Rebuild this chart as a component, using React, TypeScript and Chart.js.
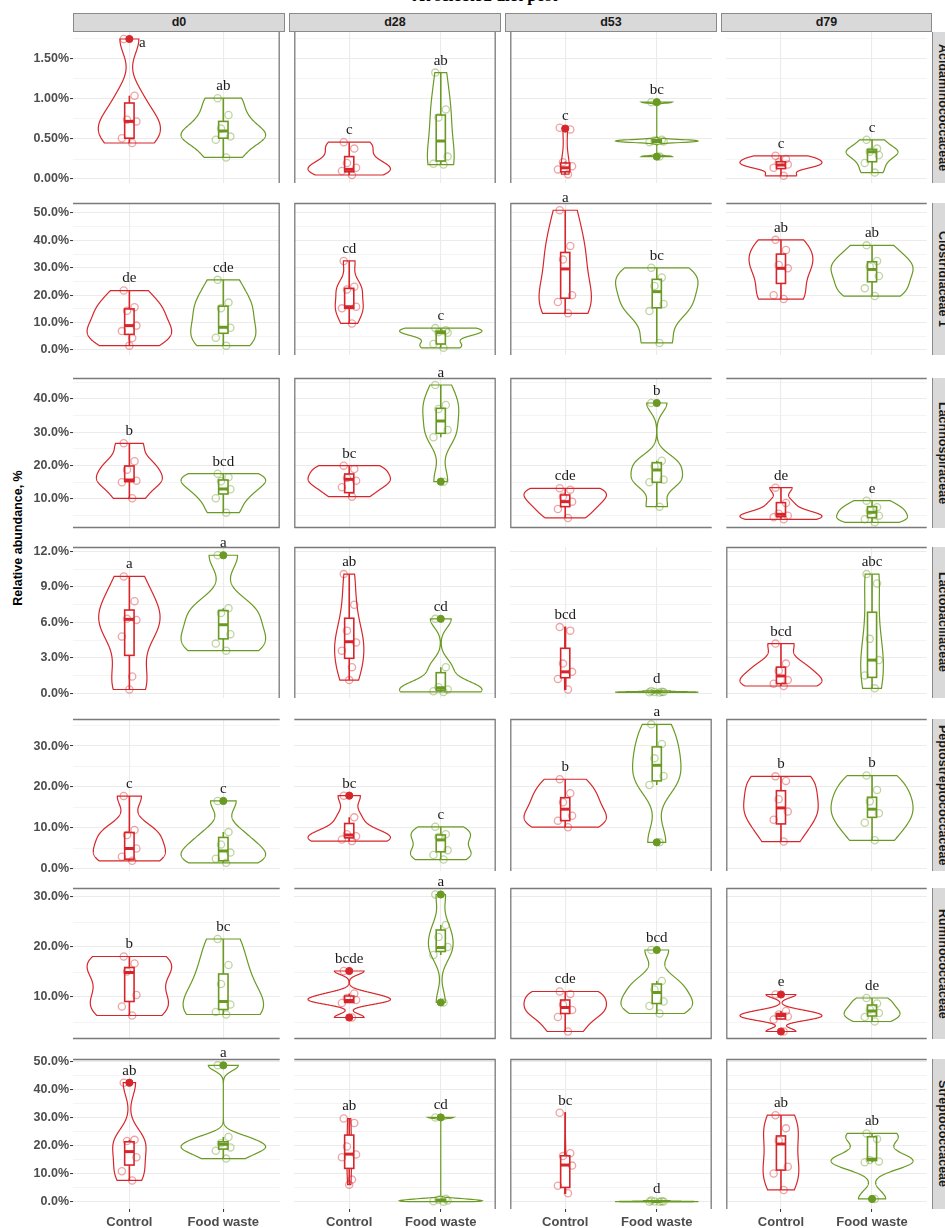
import React, { useEffect, useRef } from 'react';
import { Chart, registerables } from 'chart.js';
Chart.register(...registerables);

// ---------------- DATA ----------------
const FAMILIES = ['Acidaminococcaceae', 'Clostridiaceae 1', 'Lachnospiraceae', 'Lactobacillaceae', 'Peptostreptococcaceae', 'Ruminococcaceae', 'Streptococcaceae'];
const DAYS = ['d0', 'd28', 'd53', 'd79'];
const GROUPS = ['Control', 'Food waste'];

// y axis ranges (relative abundance, %) per family row
const Y_MIN = [-0.05, -1.82, 1.29, -0.42, -0.49, 1.6, -2.5];
const Y_MAX = [1.8375, 53.65, 46.3, 12.4, 36.6, 31.8, 51.07];
const Y_STEP = [0.5, 10, 10, 3, 10, 10, 10];
const Y_DEC = [2, 1, 1, 1, 1, 1, 1];

// points [day][group]
const ACID_POINTS = [
  [[1.75, 1.04, 0.74, 0.72, 0.51, 0.45], [1.01, 0.8, 0.63, 0.53, 0.49, 0.27]],
  [[0.46, 0.38, 0.2, 0.14, 0.1, 0.05], [1.33, 0.87, 0.77, 0.28, 0.19, 0.18]],
  [[0.64, 0.62, 0.21, 0.16, 0.12, 0.06], [0.96, 0.49, 0.48, 0.47, 0.46, 0.28]],
  [[0.29, 0.25, 0.21, 0.18, 0.14, 0.04], [0.49, 0.38, 0.34, 0.3, 0.2, 0.08]],
];
const ACID_BOX = [
  [[0.45, 0.51, 0.72, 0.95, 1.04], [0.27, 0.51, 0.6, 0.72, 1.01]],
  [[0.05, 0.09, 0.12, 0.28, 0.46], [0.18, 0.225, 0.475, 0.8, 1.33]],
  [[0.06, 0.09, 0.14, 0.2, 0.22], [0.455, 0.46, 0.475, 0.49, 0.5]],
  [[0.04, 0.13, 0.175, 0.216, 0.29], [0.08, 0.216, 0.34, 0.37, 0.49]],
];
const ACID_OUT = [[[1.75], []], [[], []], [[0.63], [0.96, 0.28]], [[], []]];
const ACID_LETTERS = [['a', 'ab'], ['c', 'ab'], ['c', 'bc'], ['c', 'c']];

const CLOS_POINTS = [
  [[21.7, 15.6, 14.3, 8.9, 6.9, 4.4, 1.6], [25.6, 17.3, 15.2, 8.1, 4.5, 1.6]],
  [[32.5, 23.1, 22.1, 15.8, 15.2, 9.7], [8.0, 7.2, 6.5, 6.3, 2.2, 0.8]],
  [[51.0, 38.0, 33.0, 20.0, 17.5, 13.4], [30.0, 26.5, 23.4, 16.8, 14.2, 2.6]],
  [[40.2, 36.5, 31.0, 29.8, 20.0, 18.6], [38.2, 32.5, 30.5, 27.0, 22.5, 19.7]],
];
const CLOS_BOX = [
  [[1.6, 5.7, 8.9, 15.0, 21.7], [1.6, 6.1, 8.3, 16.0, 25.6]],
  [[9.7, 15.2, 15.8, 22.5, 32.5], [0.8, 2.2, 6.3, 6.9, 8.0]],
  [[13.4, 18.9, 29.6, 35.6, 51.0], [2.6, 15.4, 21.3, 25.8, 30.0]],
  [[18.6, 24.3, 29.8, 35.0, 40.2], [19.7, 24.9, 29.4, 32.2, 38.2]],
];
const CLOS_OUT = [[[], []], [[], []], [[], []], [[], []]];
const CLOS_LETTERS = [['de', 'cde'], ['cd', 'c'], ['a', 'bc'], ['ab', 'ab']];

const LACH_POINTS = [
  [[26.7, 21.3, 18.8, 15.5, 15.0, 10.2], [17.6, 16.5, 15.3, 12.9, 10.2, 5.9]],
  [[20.0, 19.0, 16.3, 15.5, 13.5, 10.7], [44.2, 38.2, 37.0, 30.7, 28.5, 15.2]],
  [[13.2, 12.8, 10.7, 9.2, 7.0, 4.3], [38.8, 21.5, 19.8, 15.8, 15.0, 7.7]],
  [[13.4, 8.8, 5.6, 5.0, 4.5, 3.9], [9.5, 7.5, 6.5, 5.0, 3.9, 3.0]],
];
const LACH_BOX = [
  [[10.2, 15.2, 15.7, 19.9, 26.7], [5.9, 11.5, 13.0, 15.7, 17.6]],
  [[10.7, 11.9, 15.9, 17.5, 20.0], [28.5, 29.7, 33.4, 37.2, 44.2]],
  [[4.3, 7.7, 9.2, 11.2, 13.2], [7.7, 15.0, 18.7, 20.9, 21.5]],
  [[3.9, 4.7, 5.4, 8.9, 13.4], [3.0, 4.4, 6.0, 7.7, 9.5]],
];
const LACH_OUT = [[[], []], [[], [15.2]], [[], [38.8]], [[], []]];
const LACH_LETTERS = [['b', 'bcd'], ['bc', 'a'], ['cde', 'b'], ['de', 'e']];

const LACTO_POINTS = [
  [[9.9, 7.8, 6.3, 6.2, 4.8, 1.4, 0.3], [11.7, 7.2, 6.8, 5.0, 4.2, 3.6]],
  [[10.1, 7.5, 5.3, 4.3, 3.6, 2.2, 1.1], [6.3, 2.2, 0.5, 0.3, 0.15, 0.1]],
  [[5.6, 5.3, 2.5, 1.8, 1.2, 0.3], [0.18, 0.12, 0.1, 0.08, 0.06, 0.05]],
  [[4.2, 2.5, 1.9, 1.1, 0.8, 0.6], [10.1, 9.3, 4.6, 2.8, 1.5, 0.4]],
];
const LACTO_BOX = [
  [[0.3, 3.2, 6.26, 7.05, 9.9], [3.6, 4.6, 5.8, 7.0, 7.2]],
  [[1.1, 2.95, 4.36, 6.35, 10.1], [0.1, 0.25, 0.45, 1.73, 2.2]],
  [[0.3, 1.3, 1.8, 3.8, 5.6], [0.05, 0.07, 0.09, 0.12, 0.18]],
  [[0.6, 0.8, 1.45, 2.2, 4.2], [0.4, 1.33, 2.8, 6.86, 10.1]],
];
const LACTO_OUT = [[[], [11.7]], [[], [6.3]], [[], []], [[], []]];
const LACTO_LETTERS = [['a', 'a'], ['ab', 'cd'], ['bcd', 'd'], ['bcd', 'abc']];

const PEPTO_POINTS = [
  [[17.8, 9.5, 8.3, 5.0, 3.0, 2.0], [16.6, 9.0, 6.0, 4.0, 2.5, 1.5]],
  [[17.9, 12.6, 8.5, 8.0, 7.2, 6.8], [10.3, 8.5, 7.8, 4.6, 3.4, 2.3]],
  [[21.9, 18.5, 16.3, 13.0, 11.8, 10.2], [35.3, 30.5, 27.0, 22.7, 20.5, 6.5]],
  [[22.6, 21.5, 17.0, 14.0, 12.0, 6.7], [22.8, 19.3, 16.5, 13.6, 11.3, 7.0]],
];
const PEPTO_BOX = [
  [[2.0, 2.4, 5.0, 8.9, 17.8], [1.5, 2.0, 4.4, 7.7, 9.0]],
  [[6.8, 7.6, 8.3, 11.1, 12.6], [2.3, 4.2, 7.1, 8.3, 10.3]],
  [[10.2, 11.8, 14.6, 17.4, 21.9], [20.5, 21.5, 25.3, 29.8, 35.3]],
  [[6.7, 11.0, 14.9, 19.1, 22.6], [7.0, 12.6, 14.6, 17.5, 22.8]],
];
const PEPTO_OUT = [[[], [16.6]], [[17.9], []], [[], [6.5]], [[], []]];
const PEPTO_LETTERS = [['c', 'c'], ['bc', 'c'], ['b', 'a'], ['b', 'b']];

const RUMI_POINTS = [
  [[18.1, 16.7, 15.1, 10.4, 8.1, 6.3], [21.6, 16.4, 12.6, 8.5, 7.0, 6.5]],
  [[15.2, 10.7, 9.8, 9.4, 8.8, 5.9], [30.5, 24.4, 22.0, 20.0, 18.4, 8.9]],
  [[11.1, 10.6, 8.5, 7.4, 6.0, 3.1], [19.4, 13.2, 11.5, 9.1, 8.2, 6.7]],
  [[10.5, 7.2, 6.5, 6.1, 5.5, 3.1], [9.8, 8.7, 7.5, 6.8, 6.0, 5.1]],
];
const RUMI_BOX = [
  [[6.3, 9.1, 14.9, 15.9, 18.1], [6.5, 7.5, 9.1, 14.6, 21.6]],
  [[8.8, 8.9, 9.3, 10.2, 10.7], [18.4, 19.1, 19.9, 23.4, 24.4]],
  [[3.1, 6.7, 7.9, 9.4, 11.1], [6.7, 8.7, 10.9, 12.6, 13.2]],
  [[5.5, 5.6, 6.3, 6.7, 7.2], [5.1, 6.2, 7.2, 8.4, 9.8]],
];
const RUMI_OUT = [[[], []], [[15.2, 5.9], [30.5, 8.9]], [[], [19.4]], [[10.5, 3.1], []]];
const RUMI_LETTERS = [['b', 'bc'], ['bcde', 'a'], ['cde', 'bcd'], ['e', 'de']];

const STREP_POINTS = [
  [[42.6, 22.2, 21.8, 16.0, 11.0, 7.7], [48.8, 23.2, 21.0, 19.5, 18.3, 15.5]],
  [[29.8, 28.2, 19.8, 17.0, 16.0, 8.0, 6.2], [30.2, 1.2, 0.8, 0.5, 0.3, 0.1]],
  [[31.9, 17.4, 16.4, 13.0, 5.8, 3.1], [0.5, 0.3, 0.2, 0.15, 0.1, 0.05]],
  [[31.0, 26.3, 22.0, 12.6, 10.2, 4.3], [24.5, 22.5, 15.0, 14.5, 14.2, 1.1]],
];
const STREP_BOX = [
  [[7.7, 13.2, 18.0, 21.5, 22.2], [15.5, 18.9, 20.6, 21.5, 23.2]],
  [[6.2, 12.0, 17.1, 23.9, 29.8], [0.1, 0.3, 0.6, 0.9, 1.2]],
  [[3.1, 5.2, 13.2, 16.5, 31.9], [0.05, 0.1, 0.17, 0.28, 0.5]],
  [[4.3, 11.4, 20.7, 23.6, 31.0], [14.2, 14.8, 15.3, 23.3, 24.5]],
];
const STREP_OUT = [[[42.6], [48.8]], [[], [30.2]], [[], []], [[], [1.1]]];
const STREP_LETTERS = [['ab', 'a'], ['ab', 'cd'], ['bc', 'd'], ['ab', 'ab']];

const POINTS = [ACID_POINTS, CLOS_POINTS, LACH_POINTS, LACTO_POINTS, PEPTO_POINTS, RUMI_POINTS, STREP_POINTS];
const BOXES = [ACID_BOX, CLOS_BOX, LACH_BOX, LACTO_BOX, PEPTO_BOX, RUMI_BOX, STREP_BOX];
const OUTLIERS = [ACID_OUT, CLOS_OUT, LACH_OUT, LACTO_OUT, PEPTO_OUT, RUMI_OUT, STREP_OUT];
const LETTERS = [ACID_LETTERS, CLOS_LETTERS, LACH_LETTERS, LACTO_LETTERS, PEPTO_LETTERS, RUMI_LETTERS, STREP_LETTERS];

// ---------------- LAYOUT / STYLE ----------------
const PANEL_LEFT = [73, 289, 505, 721];
const PANEL_WIDTH = [212, 212, 212, 211];
const PANEL_TOP = [32, 203, 378, 547, 719, 888, 1059];
const PANEL_BOTTOM = [183, 355, 528, 698, 871, 1039, 1209];
const BORDERS = [
  ['r', 'lr', 'l', ''],
  ['tr', 'tlr', 'tl', 't'],
  ['trb', 'tlrb', 'tlb', 'tb'],
  ['tr', 'tlr', '', 'tl'],
  ['t', 'tr', 'tlr', 'tl'],
  ['tb', 'tbr', 'tlrb', 'tlb'],
  ['t', 'tr', 'tlr', 'tl'],
];
const COLORS = ['#d7262b', '#6a9a23'];
const COLORS_A = ['rgba(215,38,43,0.42)', 'rgba(106,154,35,0.42)'];
const JITTER = [-0.06, 0.055, -0.025, 0.075, -0.08, 0.03, 0.0];
const PAD_TOP = 24;
const SANS = '"Liberation Sans", Arial, sans-serif';
const SERIF = '"Liberation Serif", "Times New Roman", serif';

function q7(sorted: number[], p: number) {
  const h = (sorted.length - 1) * p;
  const lo = Math.floor(h), hi = Math.ceil(h);
  return sorted[lo] + (h - lo) * (sorted[hi] - sorted[lo]);
}
function bwNrd0(xs: number[]) {
  const n = xs.length;
  const s = [...xs].sort((a, b) => a - b);
  const mean = xs.reduce((a, b) => a + b, 0) / n;
  const sd = Math.sqrt(xs.reduce((a, b) => a + (b - mean) * (b - mean), 0) / (n - 1));
  const iqr = q7(s, 0.75) - q7(s, 0.25);
  let lo = Math.min(sd, iqr / 1.34);
  if (!(lo > 0)) lo = sd || Math.abs(s[0]) || 1;
  return 0.9 * lo * Math.pow(n, -0.2);
}
function density(xs: number[]) {
  const mn = Math.min(...xs), mx = Math.max(...xs);
  if (!(mx > mn)) return null;
  const bw = bwNrd0(xs);
  const n = 256;
  const grid: number[] = [], d: number[] = [];
  for (let i = 0; i < n; i++) {
    const t = mn + ((mx - mn) * i) / (n - 1);
    let s = 0;
    for (const x of xs) { const z = (t - x) / bw; s += Math.exp(-0.5 * z * z); }
    grid.push(t);
    d.push(s / (xs.length * bw * Math.sqrt(2 * Math.PI)));
  }
  return { grid, d };
}

function isMajor(v: number, step: number) {
  return Math.abs(v / step - Math.round(v / step)) < 1e-6;
}

function makePlugin(row: number, col: number) {
  return {
    id: 'violinBox' + row + '_' + col,
    beforeDatasetsDraw(chart: any) {
      const { ctx } = chart;
      const xs = chart.scales.x, ys = chart.scales.y;
      const dens = POINTS[row][col].map((p: number[]) => density(p));
      let maxD = 0;
      dens.forEach((o: any) => { if (o) o.d.forEach((v: number) => { if (v > maxD) maxD = v; }); });
      ctx.save();
      // violins
      dens.forEach((o: any, g: number) => {
        if (!o) return;
        const cx = g + 1;
        ctx.beginPath();
        for (let i = 0; i < o.grid.length; i++) {
          const px = xs.getPixelForValue(cx - (0.45 * o.d[i]) / maxD);
          const py = ys.getPixelForValue(o.grid[i]);
          if (i === 0) ctx.moveTo(px, py); else ctx.lineTo(px, py);
        }
        for (let i = o.grid.length - 1; i >= 0; i--) {
          const px = xs.getPixelForValue(cx + (0.45 * o.d[i]) / maxD);
          const py = ys.getPixelForValue(o.grid[i]);
          ctx.lineTo(px, py);
        }
        ctx.closePath();
        ctx.strokeStyle = COLORS[g];
        ctx.lineWidth = 1.2;
        ctx.stroke();
      });
      // boxplots
      BOXES[row][col].forEach((b: number[], g: number) => {
        const cx = g + 1;
        const xl = xs.getPixelForValue(cx - 0.05), xr = xs.getPixelForValue(cx + 0.05), xm = xs.getPixelForValue(cx);
        const [lo, q1, med, q3, hi] = b.map((v) => ys.getPixelForValue(v));
        ctx.strokeStyle = COLORS[g];
        ctx.lineWidth = 1.6;
        ctx.beginPath();
        ctx.moveTo(xm, q3); ctx.lineTo(xm, hi);
        ctx.moveTo(xm, q1); ctx.lineTo(xm, lo);
        ctx.stroke();
        ctx.fillStyle = '#ffffff';
        ctx.fillRect(xl, q3, xr - xl, q1 - q3);
        ctx.strokeRect(xl, q3, xr - xl, q1 - q3);
        ctx.lineWidth = 3;
        ctx.beginPath();
        ctx.moveTo(xl, med); ctx.lineTo(xr, med);
        ctx.stroke();
      });
      ctx.restore();
    },
    afterDatasetsDraw(chart: any) {
      const { ctx, chartArea } = chart;
      const xs = chart.scales.x, ys = chart.scales.y;
      ctx.save();
      // letters
      ctx.font = '15px ' + SERIF;
      ctx.fillStyle = '#1a1a1a';
      ctx.textAlign = 'center';
      ctx.textBaseline = 'middle';
      LETTERS[row][col].forEach((txt: string, g: number) => {
        const all = [...POINTS[row][col][g], ...BOXES[row][col][g], ...OUTLIERS[row][col][g]];
        const topPx = ys.getPixelForValue(Math.max(...all));
        let x = xs.getPixelForValue(g + 1);
        let y = topPx - 12;
        if (row === 0 && y < chartArea.top) { x += 13; y = topPx + 4; }
        ctx.fillText(txt, x, y);
      });
      // borders
      const sides = BORDERS[row][col];
      ctx.strokeStyle = '#7a7a7a';
      ctx.lineWidth = 1.3;
      const L = chartArea.left + 0.5, R = chartArea.right - 0.5, T = chartArea.top + 0.5, B = chartArea.bottom - 0.5;
      ctx.beginPath();
      if (sides.includes('t')) { ctx.moveTo(chartArea.left, T); ctx.lineTo(chartArea.right, T); }
      if (sides.includes('b')) { ctx.moveTo(chartArea.left, B); ctx.lineTo(chartArea.right, B); }
      if (sides.includes('l')) { ctx.moveTo(L, chartArea.top); ctx.lineTo(L, chartArea.bottom); }
      if (sides.includes('r')) { ctx.moveTo(R, chartArea.top); ctx.lineTo(R, chartArea.bottom); }
      ctx.stroke();
      ctx.restore();
    },
  };
}

function geometry(row: number, col: number) {
  const yAxisW = col === 0 ? PANEL_LEFT[0] : 0;
  const xAxisH = row === 6 ? 26 : 10;
  const w = PANEL_WIDTH[col] + yAxisW;
  const h = PANEL_BOTTOM[row] - PANEL_TOP[row] + PAD_TOP + xAxisH;
  return { left: PANEL_LEFT[col] - yAxisW, top: PANEL_TOP[row] - PAD_TOP, w, h, yAxisW, xAxisH };
}

function buildConfig(row: number, col: number): any {
  const { yAxisW, xAxisH } = geometry(row, col);
  const step = Y_STEP[row];
  const half = step / 2;
  const yTicks: { value: number }[] = [];
  for (let k = Math.ceil(Y_MIN[row] / half - 1e-9); k * half <= Y_MAX[row] + 1e-9; k++) {
    yTicks.push({ value: +(k * half).toFixed(6) });
  }
  const datasets: any[] = [];
  GROUPS.forEach((_, g) => {
    datasets.push({
      data: POINTS[row][col][g].map((v: number, i: number) => ({ x: g + 1 + JITTER[i % JITTER.length], y: v })),
      pointRadius: 3.6,
      pointBorderWidth: 1.3,
      pointBackgroundColor: 'rgba(0,0,0,0)',
      pointBorderColor: COLORS_A[g],
      showLine: false,
      clip: false,
    });
    datasets.push({
      data: OUTLIERS[row][col][g].map((v: number) => ({ x: g + 1, y: v })),
      pointRadius: 3.6,
      pointBorderWidth: 1,
      pointBackgroundColor: COLORS[g],
      pointBorderColor: COLORS[g],
      showLine: false,
      clip: false,
    });
  });
  const tickFont = { family: SANS, size: 12.5, weight: 'bold' as const };
  return {
    type: 'scatter',
    data: { datasets },
    plugins: [makePlugin(row, col)],
    options: {
      animation: false,
      responsive: false,
      events: [],
      layout: { padding: { top: PAD_TOP, left: 0, right: 0, bottom: 0 } },
      plugins: { legend: { display: false }, tooltip: { enabled: false }, title: { display: false } },
      scales: {
        x: {
          type: 'linear',
          min: 0.4,
          max: 2.6,
          afterBuildTicks: (s: any) => { s.ticks = [{ value: 1 }, { value: 2 }]; },
          afterFit: (s: any) => { s.height = xAxisH; },
          border: { display: false },
          grid: { color: '#ebebeb', lineWidth: 1.1, drawTicks: row === 6, tickLength: 3, tickColor: '#333333', tickWidth: 1 },
          ticks: {
            display: row === 6,
            autoSkip: false,
            maxRotation: 0,
            padding: 3,
            color: '#4d4d4d',
            font: { family: SANS, size: 13, weight: 'bold' },
            callback: (v: number) => GROUPS[Math.round(v) - 1] ?? '',
          },
        },
        y: {
          type: 'linear',
          min: Y_MIN[row],
          max: Y_MAX[row],
          afterBuildTicks: (s: any) => { s.ticks = yTicks.map((t) => ({ value: t.value })); },
          afterFit: (s: any) => { s.width = yAxisW; },
          border: { display: false },
          grid: {
            color: '#ebebeb',
            lineWidth: (c: any) => (c.tick && isMajor(c.tick.value, step) ? 1.1 : 0.55),
            drawTicks: col === 0,
            tickLength: 3,
            tickColor: (c: any) => (c.tick && isMajor(c.tick.value, step) ? '#333333' : 'rgba(0,0,0,0)'),
            tickWidth: 1,
          },
          ticks: {
            display: col === 0,
            autoSkip: false,
            padding: 1,
            color: '#4d4d4d',
            font: tickFont,
            callback: (v: number) => (isMajor(v, step) ? v.toFixed(Y_DEC[row]) + '%' : ''),
          },
        },
      },
    },
  };
}

export default function App() {
  const refs = useRef<(HTMLCanvasElement | null)[]>([]);
  useEffect(() => {
    const charts: Chart[] = [];
    for (let r = 0; r < 7; r++) {
      for (let c = 0; c < 4; c++) {
        const cv = refs.current[r * 4 + c];
        if (cv) charts.push(new Chart(cv, buildConfig(r, c)));
      }
    }
    return () => { charts.forEach((ch) => ch.destroy()); };
  }, []);

  const canvases: React.ReactNode[] = [];
  for (let r = 0; r < 7; r++) {
    for (let c = 0; c < 4; c++) {
      const g = geometry(r, c);
      canvases.push(
        <canvas
          key={r + '_' + c}
          ref={(el) => { refs.current[r * 4 + c] = el; }}
          width={g.w}
          height={g.h}
          style={{ position: 'absolute', left: g.left, top: g.top, width: g.w, height: g.h }}
        />
      );
    }
  }

  return (
    <div style={{ position: 'absolute', left: 0, top: 0, width: 945, height: 1228, overflow: 'hidden', background: '#ffffff', fontFamily: SANS }}>
      <div style={{ position: 'absolute', left: 335, top: -13, width: 300, textAlign: 'center', fontFamily: SERIF, fontWeight: 'bold', fontSize: 17, lineHeight: '17px', color: '#000' }}>
        At selected diet post
      </div>
      {DAYS.map((d, c) => (
        <div key={d} style={{ position: 'absolute', left: PANEL_LEFT[c], top: 13, width: PANEL_WIDTH[c], height: 19, boxSizing: 'border-box', background: '#d9d9d9', border: '1px solid #8a8a8a', textAlign: 'center', fontWeight: 'bold', fontSize: 12.5, lineHeight: '17px', color: '#1a1a1a' }}>
          {d}
        </div>
      ))}
      {FAMILIES.map((f, r) => (
        <div key={f} style={{ position: 'absolute', left: 932, top: PANEL_TOP[r], width: 22, height: PANEL_BOTTOM[r] - PANEL_TOP[r], boxSizing: 'border-box', background: '#d9d9d9', borderLeft: '1px solid #8a8a8a', display: 'flex', alignItems: 'center', justifyContent: 'flex-start', paddingLeft: 2 }}>
          <span style={{ writingMode: 'vertical-rl', fontWeight: 'bold', fontSize: 12.5, color: '#1a1a1a', whiteSpace: 'nowrap', lineHeight: '15px' }}>{f}</span>
        </div>
      ))}
      <div style={{ position: 'absolute', left: 18 - 100, top: 538 - 8, width: 200, height: 16, textAlign: 'center', transform: 'rotate(-90deg)', fontWeight: 'bold', fontSize: 12.5, lineHeight: '16px', color: '#000', whiteSpace: 'nowrap' }}>
        Relative abundance, %
      </div>
      {canvases}
    </div>
  );
}
